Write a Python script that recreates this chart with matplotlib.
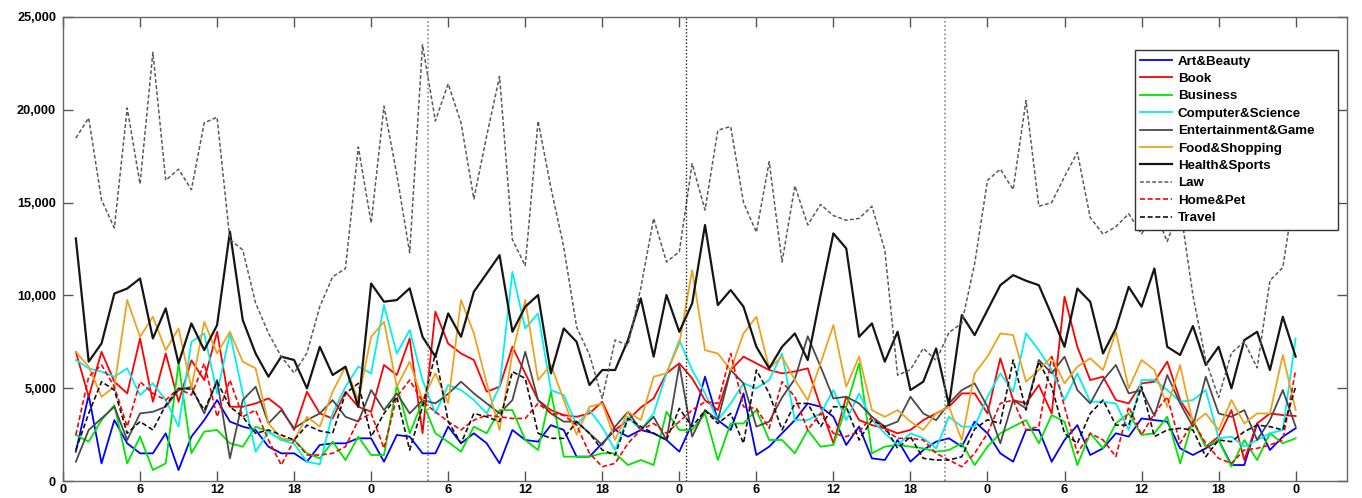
import matplotlib
matplotlib.use("Agg")
import matplotlib.pyplot as plt
from matplotlib.ticker import FuncFormatter, FixedLocator

hours = list(range(1, 97))

art_beauty = [1580, 4630, 950, 3280, 2030, 1490, 1490, 2570, 590, 2390,
              3280, 4360, 3200, 2930, 2750, 1850, 1490, 1490, 1040, 1940,
              2030, 2030, 2300, 2300, 1040, 2480, 2390, 1490, 1490, 2930,
              2030, 2570, 2030, 950, 2750, 2210, 2120, 3010, 2750, 1310,
              1310, 2030, 2750, 2390, 2750, 2570, 2210, 1580, 3100, 5620,
              3280, 2750, 4720, 1400, 1850, 2570, 3280, 4180, 4000, 3460,
              1940, 2930, 1220, 1130, 2210, 1040, 1670, 2120, 2300, 1850,
              3200, 2570, 1490, 1040, 2750, 2750, 1040, 2210, 3010, 1400,
              1760, 2570, 2390, 3370, 3280, 3200, 1760, 1400, 1760, 2210,
              860, 860, 3100, 1670, 2390, 2840]

book = [6960, 4540, 6960, 5350, 4720, 7680, 4270, 6870, 4270, 6500,
        5440, 8040, 4000, 4000, 4180, 4450, 3910, 2750, 4810, 3640,
        3370, 4810, 4000, 3730, 6250, 5710, 7680, 2570, 9120, 7400,
        6870, 6520, 4810, 5080, 7230, 5800, 4360, 3820, 3550, 3460,
        3640, 4270, 2750, 3280, 3960, 4450, 5800, 6340, 5530, 4360,
        3820, 5980, 6700, 6340, 5980, 5800, 5900, 6070, 4000, 2030,
        4540, 3280, 3010, 2840, 2570, 2750, 3280, 3640, 4000, 4720,
        4720, 3640, 6610, 4360, 4180, 5170, 3640, 9930, 7230, 5440,
        5620, 4360, 4180, 5260, 5350, 6430, 4360, 3280, 1850, 2390,
        3820, 1130, 3100, 3640, 3550, 3500]

business = [2480, 2120, 3280, 4090, 950, 2390, 590, 950, 6340, 1500,
            2660, 2750, 2030, 1850, 2930, 2660, 2210, 2210, 1490, 1220,
            2120, 1130, 2390, 1400, 1400, 5170, 2570, 4270, 2570, 2100,
            1580, 2930, 2570, 3820, 3820, 2210, 1670, 4810, 1310, 1310,
            1310, 1490, 1490, 860, 1130, 860, 3730, 2750, 2750, 3640,
            1130, 3100, 3100, 3820, 2210, 2210, 1490, 2750, 1850, 1940,
            4000, 6340, 1490, 1850, 1940, 1850, 1760, 1580, 1670, 2030,
            860, 1850, 2570, 2930, 3280, 2030, 3550, 3200, 860, 2570,
            1760, 3100, 3640, 2480, 2570, 3460, 950, 3280, 1850, 2210,
            770, 2210, 1130, 2570, 2030, 2300]

computer_science = [6520, 6070, 5890, 5620, 6070, 4630, 5260, 4360, 2930, 7500,
                    7950, 4720, 7950, 4720, 1580, 2660, 2210, 2000, 1040, 900,
                    3640, 5080, 6160, 5800, 9480, 6870, 8130, 5440, 3640, 5170,
                    4900, 4360, 3640, 5080, 11270, 8220, 9030, 4900, 4630, 3000,
                    3820, 2900, 1670, 3460, 2750, 3640, 5800, 7590, 5980, 4720,
                    3280, 4180, 5260, 4990, 5440, 6870, 3280, 3280, 3640, 4900,
                    3280, 4720, 3280, 2570, 1940, 2570, 2300, 1760, 3460, 2930,
                    2930, 4540, 5800, 4810, 7950, 7050, 5980, 4360, 5800, 4270,
                    4270, 4180, 2750, 5440, 5440, 4900, 4270, 4360, 4900, 2300,
                    2390, 1850, 2210, 2570, 2750, 7680]

entertainment_game = [1040, 2750, 3370, 4000, 2210, 3640, 3730, 4000, 4900, 5080,
                      3640, 5440, 1220, 4360, 5080, 3100, 3820, 2840, 3280, 3640,
                      4360, 3460, 3200, 4900, 3820, 4720, 3640, 4360, 4180, 4700,
                      5350, 4720, 4180, 3640, 4360, 6960, 4360, 3640, 3200, 3200,
                      2570, 1940, 2930, 3730, 2750, 3460, 2210, 6250, 2390, 3820,
                      3280, 5980, 5260, 2930, 3200, 4500, 5500, 7800, 6160, 4450,
                      4540, 4180, 3460, 2930, 3200, 4540, 3640, 3280, 4180, 4900,
                      5260, 4000, 2030, 4360, 3910, 6520, 5800, 6700, 4900, 4180,
                      5440, 6250, 4720, 4900, 3500, 5710, 4180, 2930, 5620, 3640,
                      3460, 3820, 2210, 3280, 4900, 2930]

food_shopping = [6960, 6160, 4540, 5080, 9750, 7770, 8850, 7050, 8220, 5000,
                 8580, 6870, 8040, 6430, 6070, 3100, 2300, 2210, 3460, 2930,
                 4810, 6160, 4360, 7770, 8580, 5080, 6430, 4360, 5800, 4200,
                 9750, 7950, 5260, 2750, 6870, 9750, 5440, 6250, 4360, 2500,
                 4000, 4180, 2210, 3730, 3280, 5620, 5800, 7410, 11360, 7050,
                 6870, 5980, 7950, 8850, 6070, 6700, 5440, 4360, 6340, 8400,
                 5080, 6700, 3820, 3460, 3820, 3200, 2750, 3640, 4000, 2210,
                 5800, 6700, 7950, 7860, 5350, 5980, 6700, 5260, 6160, 6610,
                 5980, 8040, 4990, 6520, 5980, 4000, 6250, 3100, 3640, 2750,
                 4360, 3100, 3640, 3640, 6790, 3820]

health_sports = [13070, 6430, 7410, 10100, 10370, 10910, 7680, 9300, 6340, 8490,
                 7050, 8400, 13430, 8670, 6870, 5620, 6700, 6520, 4990, 7230,
                 5710, 6160, 4000, 10640, 9660, 9750, 10380, 7770, 6700, 9030,
                 7770, 10200, 11180, 12170, 8040, 9390, 10020, 5800, 8220, 7500,
                 5170, 5980, 5980, 7590, 9840, 6700, 10020, 8040, 9570, 13790,
                 9480, 10290, 9390, 7230, 6070, 7230, 7950, 6520, 10000, 13340,
                 12530, 7770, 8490, 6430, 8040, 4900, 5350, 7140, 4090, 8940,
                 7860, 9210, 10550, 11090, 10790, 10550, 8940, 7230, 10370, 9660,
                 6870, 8220, 10460, 9390, 11450, 7230, 6790, 8350, 6250, 7230,
                 4990, 7590, 8040, 5980, 8850, 6700]

law = [18480, 19560, 15140, 13630, 20100, 16000, 23100, 16200, 16800, 15700,
       19300, 19600, 13000, 12450, 9590, 7970, 6700, 5820, 6900, 9400,
       11000, 11450, 18000, 13900, 20200, 16500, 12300, 23500, 19400, 21400,
       19300, 15200, 18600, 21800, 13000, 11600, 19400, 15800, 12600, 8300,
       6800, 4450, 7600, 7300, 10400, 14150, 11800, 12350, 17100, 14600,
       18900, 19100, 15000, 13400, 17200, 11800, 15900, 13800, 14900, 14300,
       14050, 14150, 14800, 12450, 5700, 6000, 7150, 6500, 8000, 8500,
       11700, 16200, 16800, 15700, 20500, 14800, 15000, 16400, 17700, 14200,
       13300, 13700, 14400, 13300, 14600, 12900, 14800, 10000, 6500, 4500,
       6900, 7500, 6100, 10800, 11500, 16000]

home_pet = [2480, 5620, 6250, 5080, 2930, 5350, 4720, 4360, 4990, 4630,
            6340, 3460, 5440, 3460, 3820, 2210, 860, 2210, 1400, 1400,
            1490, 1850, 3280, 3640, 1760, 4540, 5440, 4270, 3730, 3200,
            2750, 3280, 3550, 3460, 3370, 3370, 4180, 3640, 3550, 3000,
            1490, 770, 950, 2030, 2750, 3100, 2570, 3200, 3820, 4270,
            4180, 6870, 4000, 3910, 2840, 5350, 4540, 2750, 3640, 2570,
            2390, 2660, 3460, 2750, 2300, 2300, 2210, 1490, 1130, 770,
            1490, 2570, 4180, 4360, 2750, 2930, 6700, 4000, 1490, 2570,
            2210, 1310, 4000, 2480, 3640, 4540, 2030, 3200, 2030, 1220,
            950, 1670, 1760, 1940, 2210, 5980]

travel = [1670, 3640, 5350, 4900, 2570, 3200, 2750, 4090, 4990, 4950,
          3820, 5350, 4000, 3460, 2570, 2750, 2480, 2210, 3010, 2700,
          2570, 4720, 5260, 2390, 3640, 4540, 1670, 4000, 6870, 3200,
          2030, 3640, 3460, 3200, 5890, 5530, 2570, 2300, 2300, 3200,
          2570, 1670, 1400, 3370, 2930, 2570, 2210, 3910, 2930, 3800,
          3100, 3640, 2030, 5980, 4720, 2750, 4180, 4180, 2930, 4000,
          4000, 2210, 3280, 2930, 1760, 2390, 1220, 1130, 1130, 1310,
          2800, 3300, 3100, 6520, 3820, 6430, 5080, 2570, 2030, 3640,
          4360, 3010, 3010, 5080, 2390, 2750, 2840, 2750, 1310, 2210,
          2120, 2660, 3010, 2930, 2750, 5080]

x_tick_positions = list(range(0, 97, 6))
x_tick_labels = ["0", "6", "12", "18"] * 4 + ["0"]
y_tick_values = [0, 5000, 10000, 15000, 20000, 25000]
marker_lines = [28.4, 48.5, 68.7]

series = [
    ("Art&Beauty", art_beauty, "#0000ff", "-", 1.3),
    ("Book", book, "#ff0000", "-", 1.3),
    ("Business", business, "#00e600", "-", 1.3),
    ("Computer&Science", computer_science, "#00f0f0", "-", 1.3),
    ("Entertainment&Game", entertainment_game, "#4a4a4a", "-", 1.3),
    ("Food&Shopping", food_shopping, "#eea21e", "-", 1.3),
    ("Health&Sports", health_sports, "#151515", "-", 1.6),
    ("Law", law, "#5a5a5a", (0, (2.5, 1.5)), 1.1),
    ("Home&Pet", home_pet, "#ff0000", (0, (3, 1.6)), 1.2),
    ("Travel", travel, "#111111", (0, (3, 1.6)), 1.2),
]

plt.rcParams['font.family'] = ['Liberation Sans', 'DejaVu Sans']

fig = plt.figure(figsize=(13.62, 4.98), dpi=100)
ax = fig.add_axes([63 / 1362, 1 - 481 / 498, (1347 - 63) / 1362, (481 - 17) / 498])

for name, vals, color, ls, lw in series:
    ax.plot(hours, vals, color=color, linestyle=ls, linewidth=lw, label=name)

ax.axvline(marker_lines[0], color="#8a8a8a", linestyle=(0, (1, 1.5)), linewidth=1.2)
ax.axvline(marker_lines[1], color="#222222", linestyle=(0, (1, 1.5)), linewidth=1.0)
ax.axvline(marker_lines[2], color="#8a8a8a", linestyle=(0, (1, 1.5)), linewidth=1.2)

ax.set_xlim(0, 100)
ax.set_ylim(0, 25000)
ax.xaxis.set_major_locator(FixedLocator(x_tick_positions))
ax.set_xticklabels(x_tick_labels)
ax.yaxis.set_major_locator(FixedLocator(y_tick_values))
ax.yaxis.set_major_formatter(FuncFormatter(lambda v, p: f"{int(v):,}"))

ax.tick_params(axis="both", direction="in", length=7, width=1, color="#555555",
               labelsize=9.2, top=True, right=True)
ax.tick_params(axis="x", pad=2)
ax.tick_params(axis="y", pad=5)
for lab in ax.get_xticklabels() + ax.get_yticklabels():
    lab.set_fontweight("bold")

for sp in ax.spines.values():
    sp.set_color("#666666")
    sp.set_linewidth(1.0)

leg = ax.legend(loc="upper left",
                bbox_to_anchor=(1135 / 1362, 1 - 226 / 498, 203 / 1362, 176 / 498),
                bbox_transform=fig.transFigure, borderaxespad=0, mode="expand",
                prop={"weight": "bold", "size": 9.6}, fancybox=False,
                framealpha=1, edgecolor="#333333", handlelength=2.4,
                handletextpad=0.4, labelspacing=0.38, borderpad=0.4)
leg.get_frame().set_linewidth(1.0)

fig.savefig("out.png", dpi=100)
